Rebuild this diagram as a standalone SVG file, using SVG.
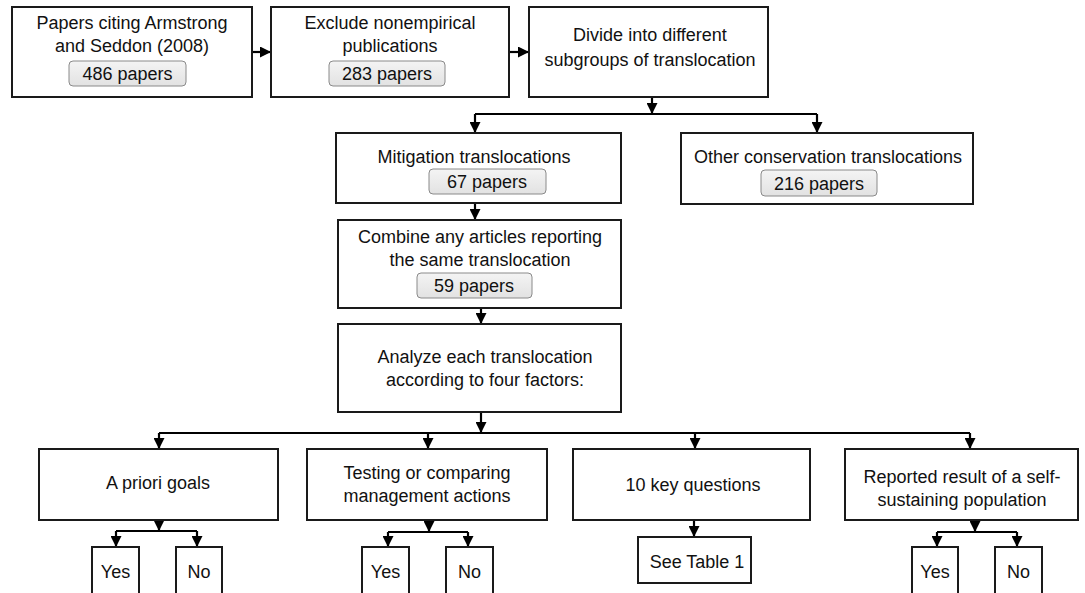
<svg xmlns="http://www.w3.org/2000/svg" width="1085" height="593" viewBox="0 0 1085 593">
<style>
.box{fill:#fff;stroke:#1a1a1a;stroke-width:2}
.pill{fill:url(#pg);stroke:#8a8a8a;stroke-width:1}
.t{font-family:"Liberation Sans",Arial,sans-serif;font-size:18px;fill:#111;text-anchor:middle}
.c{fill:none;stroke:#000;stroke-width:2.2}
.a{marker-end:url(#ah)}
</style>
<defs>
<linearGradient id="pg" x1="0" y1="0" x2="0" y2="1">
<stop offset="0" stop-color="#f4f4f4"/>
<stop offset="1" stop-color="#e2e2e2"/>
</linearGradient>
<marker id="ah" markerUnits="userSpaceOnUse" markerWidth="11" markerHeight="11" viewBox="0 0 10 10" refX="10" refY="5" orient="auto">
<path d="M0,0 L10,5 L0,10 Z" fill="#000"/>
</marker>
</defs>
<rect width="1085" height="593" fill="#fff"/>

<g id="connectors">
<path class="c a" d="M252,52 H271"/>
<path class="c a" d="M509,52 H529"/>
<path class="c a" d="M652,97 V114"/>
<path class="c" d="M475,114 H817"/>
<path class="c a" d="M475,114 V133"/>
<path class="c a" d="M817,114 V133"/>
<path class="c a" d="M475,203 V220"/>
<path class="c a" d="M481,308 V324"/>
<path class="c a" d="M481,412 V433"/>
<path class="c" d="M159,433 H970"/>
<path class="c a" d="M159,433 V449"/>
<path class="c a" d="M428,433 V449"/>
<path class="c a" d="M695,433 V449"/>
<path class="c a" d="M970,433 V449"/>
<path class="c a" d="M159,520 V531"/>
<path class="c" d="M116,531 H197"/>
<path class="c a" d="M116,531 V547"/>
<path class="c a" d="M197,531 V547"/>
<path class="c a" d="M429,520 V532"/>
<path class="c" d="M388,532 H468"/>
<path class="c a" d="M388,532 V547"/>
<path class="c a" d="M468,532 V547"/>
<path class="c a" d="M694,520 V537"/>
<path class="c a" d="M975,520 V532"/>
<path class="c" d="M937,532 H1017"/>
<path class="c a" d="M937,532 V547"/>
<path class="c a" d="M1017,532 V547"/>
</g>

<g id="n-papers">
<rect class="box" x="12" y="7" width="240" height="90"/>
<text class="t" x="132" y="29">Papers citing Armstrong</text>
<text class="t" x="132" y="52">and Seddon (2008)</text>
<rect class="pill" x="69" y="61" width="117" height="25" rx="4"/>
<text class="t" x="127.5" y="80">486 papers</text>
</g>
<g id="n-exclude">
<rect class="box" x="271" y="7" width="238" height="90"/>
<text class="t" x="390" y="29">Exclude nonempirical</text>
<text class="t" x="390" y="52">publications</text>
<rect class="pill" x="329" y="61" width="116" height="25" rx="4"/>
<text class="t" x="387" y="80">283 papers</text>
</g>
<g id="n-divide">
<rect class="box" x="529" y="7" width="239" height="90"/>
<text class="t" x="650" y="41">Divide into different</text>
<text class="t" x="650" y="66">subgroups of translocation</text>
</g>
<g id="n-mitigation">
<rect class="box" x="336" y="133" width="285" height="70"/>
<text class="t" x="474" y="163">Mitigation translocations</text>
<rect class="pill" x="429" y="169" width="117" height="25" rx="4"/>
<text class="t" x="487" y="188">67 papers</text>
</g>
<g id="n-other">
<rect class="box" x="681" y="133" width="292" height="71"/>
<text class="t" x="828" y="163">Other conservation translocations</text>
<rect class="pill" x="761" y="170" width="116" height="26" rx="4"/>
<text class="t" x="819" y="190">216 papers</text>
</g>
<g id="n-combine">
<rect class="box" x="338" y="220" width="283" height="88"/>
<text class="t" x="480" y="243">Combine any articles reporting</text>
<text class="t" x="480" y="266">the same translocation</text>
<rect class="pill" x="417" y="273" width="115" height="25" rx="4"/>
<text class="t" x="474" y="292">59 papers</text>
</g>
<g id="n-analyze">
<rect class="box" x="338" y="324" width="283" height="88"/>
<text class="t" x="485" y="363">Analyze each translocation</text>
<text class="t" x="485" y="386">according to four factors:</text>
</g>
<g id="n-apriori">
<rect class="box" x="39" y="449" width="239" height="71"/>
<text class="t" x="158" y="489">A priori goals</text>
</g>
<g id="n-testing">
<rect class="box" x="307" y="449" width="240" height="71"/>
<text class="t" x="427" y="479">Testing or comparing</text>
<text class="t" x="427" y="502">management actions</text>
</g>
<g id="n-keyq">
<rect class="box" x="573" y="449" width="237" height="71"/>
<text class="t" x="693" y="491">10 key questions</text>
</g>
<g id="n-reported">
<rect class="box" x="845" y="449" width="233" height="71"/>
<text class="t" x="962" y="483">Reported result of a self-</text>
<text class="t" x="962" y="506">sustaining population</text>
</g>
<g id="n-table">
<rect class="box" x="638" y="537" width="113" height="46"/>
<text class="t" x="697" y="568">See Table 1</text>
</g>
<g id="n-yes1"><rect class="box" x="92" y="547" width="47" height="52"/><text class="t" x="115.5" y="578">Yes</text></g>
<g id="n-no1"><rect class="box" x="176" y="547" width="46" height="52"/><text class="t" x="199" y="578">No</text></g>
<g id="n-yes2"><rect class="box" x="362" y="547" width="47" height="52"/><text class="t" x="385.5" y="578">Yes</text></g>
<g id="n-no2"><rect class="box" x="446" y="547" width="47" height="52"/><text class="t" x="469.5" y="578">No</text></g>
<g id="n-yes3"><rect class="box" x="912" y="547" width="46" height="52"/><text class="t" x="935" y="578">Yes</text></g>
<g id="n-no3"><rect class="box" x="995" y="547" width="47" height="52"/><text class="t" x="1018.5" y="578">No</text></g>
</svg>
